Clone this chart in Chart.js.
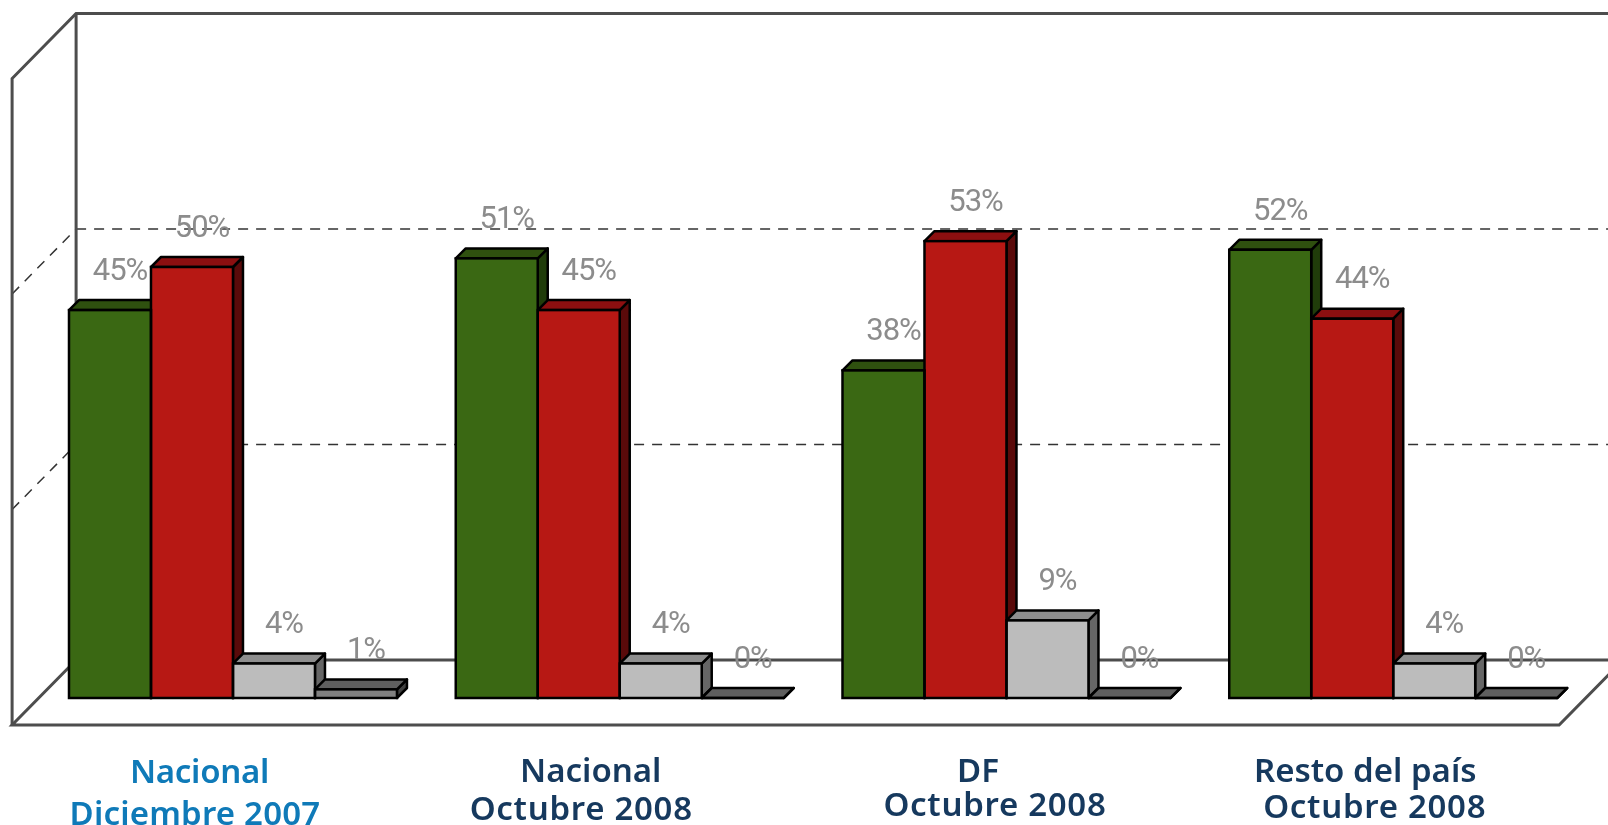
<!DOCTYPE html>
<html>
<head>
<meta charset="utf-8">
<style>
  html, body { margin: 0; padding: 0; background: #fff; overflow: hidden; }
  canvas { display: block; }
</style>
<script src="https://cdn.jsdelivr.net/npm/chart.js@4"></script>
</head>
<body>
<canvas id="myChart" width="1608" height="825"></canvas>
<script>
const categories = [
    ["Nacional", "Diciembre 2007"],
    ["Nacional", "Octubre 2008"],
    ["DF", "Octubre 2008"],
    ["Resto del país", "Octubre 2008"]
];

const greenValues = [45, 51, 38, 52];
const redValues = [50, 45, 53, 44];
const greyValues = [4, 4, 9, 4];
const darkValues = [1, 0, 0, 0];

const gridValues = [25, 50];
const axisMax = 75;

// colours per series: front, top, side
const greenColors = ["#3a6813", "#2f500f", "#203c0a"];
const redColors = ["#b71814", "#8c0f10", "#5a0a0a"];
const greyColors = ["#bcbcbc", "#8e8e8e", "#666666"];
const darkColors = ["#808080", "#5f5f5f", "#404040"];

// text offsets from the centre of each category, per line
const labelDx = [[-33.5, -38], [-29, -38.5], [-28.5, -11.5], [-28, -18.5]];
const labelBaseline = [[783, 825], [782, 820], [782, 816], [782, 818]];
const labelColor = ["#0f7ab8", "#16395e", "#16395e", "#16395e"];
const labelFont = "600 33px 'Noto Sans'";
const labelSpacing = [["-0.3px", "0.2px"], ["0px", "0.7px"], ["0px", "0.7px"], ["0px", "0.7px"]];

const depth = 10;
const backDx = 36.5, backDy = 38, frontDx = 27.5, frontDy = 27;
const wallColor = "#4d4d4d";

function line(c, pts) {
    c.beginPath();
    c.moveTo(pts[0][0], pts[0][1]);
    for (let i = 1; i < pts.length; i++) c.lineTo(pts[i][0], pts[i][1]);
    c.stroke();
}

function face(c, pts, fill) {
    c.beginPath();
    c.moveTo(pts[0][0], pts[0][1]);
    for (let i = 1; i < pts.length; i++) c.lineTo(pts[i][0], pts[i][1]);
    c.closePath();
    c.fillStyle = fill;
    c.fill();
    c.stroke();
}

const box3d = {
    id: "box3d",
    beforeDatasetsDraw(chart) {
        const c = chart.ctx, a = chart.chartArea, y = chart.scales.y;
        const base = y.getPixelForValue(0), top = y.getPixelForValue(axisMax);
        c.save();

        // gridlines on back and left walls
        c.strokeStyle = "#333";
        c.lineWidth = 1.5;
        c.setLineDash([10, 8]);
        gridValues.forEach(v => {
            const py = y.getPixelForValue(v);
            line(c, [[a.left - frontDx, py + frontDy], [a.left + backDx, py - backDy]]);
            line(c, [[a.left + backDx, py - backDy], [a.right + backDx, py - backDy]]);
        });
        c.setLineDash([]);

        // walls and floor
        c.strokeStyle = wallColor;
        c.lineWidth = 3;
        line(c, [[a.left - frontDx, base + frontDy], [a.left - frontDx, top + frontDy],
                 [a.left + backDx, top - backDy], [a.right + backDx, top - backDy]]);
        line(c, [[a.left + backDx, top - backDy], [a.left + backDx, base - backDy], [a.right + backDx, base - backDy]]);
        line(c, [[a.left + backDx, base - backDy], [a.left - frontDx, base + frontDy],
                 [a.right - frontDx, base + frontDy], [a.right + backDx, base - backDy]]);

        // top and side faces, left to right so each bar covers the one before
        c.strokeStyle = "#000";
        c.lineWidth = 2.5;
        c.lineJoin = "round";
        categories.forEach((_, i) => {
            chart.data.datasets.forEach((ds, d) => {
                const bar = chart.getDatasetMeta(d).data[i];
                const l = bar.x - bar.width / 2, r = bar.x + bar.width / 2;
                const t = bar.y, b = bar.base;
                face(c, [[r, t], [r + depth, t - depth], [r + depth, b - depth], [r, b]], ds.faces[2]);
                face(c, [[l, t], [l + depth, t - depth], [r + depth, t - depth], [r, t]], ds.faces[1]);
            });
        });
        c.restore();
    },
    afterDatasetsDraw(chart) {
        const c = chart.ctx, x = chart.scales.x;
        c.save();

        // front outlines of the bars
        c.strokeStyle = "#000";
        c.lineWidth = 2.5;
        chart.data.datasets.forEach((ds, d) => {
            chart.getDatasetMeta(d).data.forEach(bar => {
                c.strokeRect(bar.x - bar.width / 2, bar.y, bar.width, bar.base - bar.y);
            });
        });

        // value labels
        c.font = "400 31px Roboto";
        c.letterSpacing = "-1px";
        c.fillStyle = "#8c8c8c";
        c.textAlign = "center";
        c.textBaseline = "middle";
        chart.data.datasets.forEach((ds, d) => {
            chart.getDatasetMeta(d).data.forEach((bar, i) => {
                c.fillText(ds.data[i] + "%", bar.x + 10, bar.y - 38);
            });
        });

        // category labels
        c.textBaseline = "alphabetic";
        c.font = labelFont;
        categories.forEach((lines, i) => {
            c.fillStyle = labelColor[i];
            lines.forEach((txt, n) => {
                c.letterSpacing = labelSpacing[i][n];
                c.fillText(txt, x.getPixelForValue(i) + labelDx[i][n], labelBaseline[i][n]);
            });
        });
        c.restore();
    }
};

function series(label, data, colors) {
    return {
        label: label,
        data: data,
        faces: colors,
        backgroundColor: colors[0],
        borderWidth: 0,
        categoryPercentage: 0.848,
        barPercentage: 1
    };
}

new Chart(document.getElementById("myChart"), {
    type: "bar",
    data: {
        labels: categories,
        datasets: [
            series("Serie 1", greenValues, greenColors),
            series("Serie 2", redValues, redColors),
            series("Serie 3", greyValues, greyColors),
            series("Serie 4", darkValues, darkColors)
        ]
    },
    options: {
        responsive: false,
        animation: false,
        layout: { padding: { left: 39.6, right: 21.4, top: 51.5, bottom: 127 } },
        plugins: { legend: { display: false }, tooltip: { enabled: false } },
        scales: {
            x: { display: false },
            y: { display: false, min: 0, max: axisMax }
        }
    },
    plugins: [box3d]
});
</script>
</body>
</html>
